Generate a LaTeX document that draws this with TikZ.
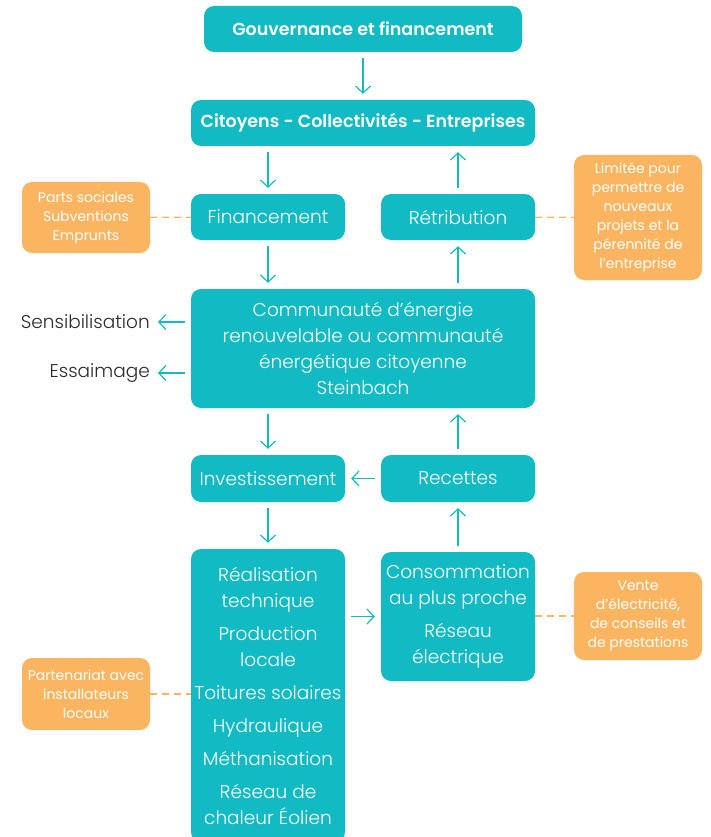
\documentclass[tikz,border=0pt]{standalone}
\usepackage{fontspec}
\setmainfont{Poppins}[UprightFont=* Light, BoldFont=* SemiBold]
\newfontfamily\notefont{Poppins}
\usetikzlibrary{positioning,arrows.meta}
\definecolor{teal1}{HTML}{12BAC3}
\definecolor{peach}{HTML}{FBB45F}
\definecolor{ink}{HTML}{2B2B2B}
\tikzset{
  step box/.style={fill=teal1, text=white, rounded corners=10pt, align=center,
    minimum width=154pt, minimum height=46pt, inner sep=1pt,
    font=\fontsize{18.5}{26}\selectfont},
  title box/.style={step box, font=\bfseries\fontsize{17.5}{26}\selectfont},
  note box/.style={fill=peach, text=white, rounded corners=10pt, align=center,
    minimum width=128pt, inner sep=1pt, font=\notefont\fontsize{14}{19}\selectfont},
  flow/.style={draw=teal1, line width=1.2pt, shorten >=6pt, shorten <=6pt,
    -{Straight Barb[length=7pt,width=15pt,line width=1.2pt]}},
  link/.style={draw=peach, line width=1.2pt, dash pattern=on 7pt off 5pt}
}

\begin{document}
\begin{tikzpicture}[x=1pt, y=-1pt]
  \useasboundingbox (0,0) rectangle (710,837);
  \node[title box, minimum width=318pt] (Gov) at (363,29) {Gouvernance et financement};
  \node[title box, on grid, below=94pt of Gov, minimum width=344pt] (Cit) {Citoyens - Collectivités - Entreprises};
  \node[step box] (Fin) at (268,217) {Financement};
  \node[step box, on grid, right=190pt of Fin] (Ret) {Rétribution};
  \node[step box, minimum width=344pt, minimum height=119pt] (Com) at (363,348.5)
    {Communauté d’énergie\\renouvelable ou communauté\\énergétique citoyenne\\Steinbach};
  \node[step box, minimum height=47pt] (Inv) at (268,478.5) {Investissement};
  \node[step box, on grid, right=190pt of Inv, minimum height=47pt] (Rec) {Recettes};
  \node[step box, minimum height=293pt] (Real) at (268,695.5)
    {Réalisation\\technique\\[7pt]Production\\locale\\[7pt]Toitures solaires\\[7pt]Hydraulique\\[7pt]Méthanisation\\[7pt]Réseau de\\chaleur Éolien};
  \node[step box, minimum height=129pt] (Cons) at (458,616.5)
    {Consommation\\au plus proche\\[7pt]Réseau\\électrique};

  % notes
  \node[note box, minimum height=71pt] (Parts) at (86,217.5) {Parts sociales\\Subventions\\Emprunts};
  \node[note box, minimum height=125pt] (Lim) at (638,217.5)
    {Limitée pour\\permettre de\\nouveaux\\projets et la\\pérennité de\\l’entreprise};
  \node[note box, minimum height=88pt] (Vente) at (638,616)
    {Vente\\d’électricité,\\de conseils et\\de prestations};
  \node[note box, minimum height=72pt] (Part) at (86,694)
    {Partenariat avec\\installateurs\\locaux};
  \node[anchor=east, text=ink, inner sep=0pt, font=\fontsize{18.5}{20}\selectfont] (Sens) at (150,322) {Sensibilisation};
  \node[anchor=east, text=ink, inner sep=0pt, font=\fontsize{18.5}{20}\selectfont] (Ess) at (150,373) {Essaimage};

  \draw[flow] (Gov) to (Cit);
  \draw[flow] (Fin |- Cit.south) to (Fin);
  \draw[flow] (Fin) to (Fin |- Com.north);
  \draw[flow] (Ret |- Com.north) to (Ret);
  \draw[flow] (Ret) to (Ret |- Cit.south);
  \draw[flow] (Com.west |- Sens) to ([xshift=2pt]Sens.east);
  \draw[flow] (Com.west |- Ess) to ([xshift=2pt]Ess.east);
  \draw[flow] (Inv |- Com.south) to (Inv);
  \draw[flow] (Rec) to (Rec |- Com.south);
  \draw[flow] (Rec) to (Inv);
  \draw[flow] (Inv) to (Inv |- Real.north);
  \draw[flow] (Cons) to (Rec);
  \draw[flow] (Real.east |- Cons) to (Cons);

  \draw[link] (Parts) to (Fin);
  \draw[link] (Ret) to (Lim);
  \draw[link] (Cons.east |- Vente) to (Vente);
  \draw[link] (Part) to (Part -| Real.west);
\end{tikzpicture}
\end{document}
